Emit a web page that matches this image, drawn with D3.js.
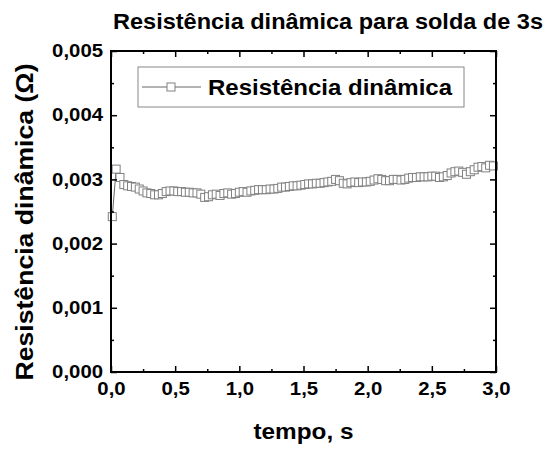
<!DOCTYPE html>
<html>
<head>
<meta charset="utf-8">
<script src="https://cdn.jsdelivr.net/npm/d3@7"></script>
<style>
  body { margin: 0; background: #fff; }
  svg { display: block; font-family: 'Liberation Sans', Arial, sans-serif; }
</style>
</head>
<body>
<svg id="chart" width="546" height="450"></svg>
<script>
// tempo (s)
var tempo = [
  0.01, 0.04, 0.07, 0.10, 0.13, 0.16, 0.19, 0.22, 0.25, 0.28,
  0.31, 0.34, 0.37, 0.40, 0.43, 0.46, 0.49, 0.52, 0.55, 0.58,
  0.61, 0.64, 0.67, 0.70, 0.73, 0.76, 0.79, 0.82, 0.85, 0.88,
  0.91, 0.94, 0.97, 1.00, 1.03, 1.06, 1.09, 1.12, 1.15, 1.18,
  1.21, 1.24, 1.27, 1.30, 1.33, 1.36, 1.39, 1.42, 1.45, 1.48,
  1.51, 1.54, 1.57, 1.60, 1.63, 1.66, 1.69, 1.72, 1.75, 1.78,
  1.81, 1.84, 1.87, 1.90, 1.93, 1.96, 1.99, 2.02, 2.05, 2.08,
  2.11, 2.14, 2.17, 2.20, 2.23, 2.26, 2.29, 2.32, 2.35, 2.38,
  2.41, 2.44, 2.47, 2.50, 2.53, 2.56, 2.59, 2.62, 2.65, 2.68,
  2.71, 2.74, 2.77, 2.80, 2.83, 2.86, 2.89, 2.92, 2.95, 2.98
];

// resistencia dinamica (ohm)
var resistencia = [
  0.00242, 0.00316, 0.00303, 0.00292, 0.00290, 0.00289, 0.00288, 0.00285, 0.00282, 0.00279,
  0.00278, 0.00276, 0.00276, 0.00278, 0.00281, 0.00282, 0.00282, 0.00281, 0.00281, 0.00280,
  0.00280, 0.00279, 0.00279, 0.00277, 0.00272, 0.00273, 0.00276, 0.00277, 0.00275, 0.00278,
  0.00279, 0.00277, 0.00278, 0.00280, 0.00281, 0.00280, 0.00282, 0.00283, 0.00284, 0.00284,
  0.00284, 0.00285, 0.00285, 0.00286, 0.00288, 0.00288, 0.00289, 0.00290, 0.00290, 0.00291,
  0.00292, 0.00293, 0.00293, 0.00294, 0.00294, 0.00295, 0.00296, 0.00297, 0.00300, 0.00298,
  0.00294, 0.00293, 0.00295, 0.00296, 0.00295, 0.00296, 0.00296, 0.00297, 0.00299, 0.00301,
  0.00300, 0.00298, 0.00298, 0.00300, 0.00300, 0.00299, 0.00300, 0.00302, 0.00303, 0.00303,
  0.00304, 0.00304, 0.00304, 0.00305, 0.00305, 0.00303, 0.00304, 0.00306, 0.00310, 0.00312,
  0.00313, 0.00311, 0.00308, 0.00312, 0.00315, 0.00319, 0.00320, 0.00318, 0.00322, 0.00321
];

var xMajor = [0, 0.5, 1.0, 1.5, 2.0, 2.5, 3.0];
var xMinor = [0.25, 0.75, 1.25, 1.75, 2.25, 2.75];
var yMajor = [0, 0.001, 0.002, 0.003, 0.004, 0.005];
var yMinor = [0.0005, 0.0015, 0.0025, 0.0035, 0.0045];

var titulo = 'Resistência dinâmica para solda de 3s';
var legenda = 'Resistência dinâmica';
var tituloX = 'tempo, s';
var tituloY = 'Resistência dinâmica (Ω)';

(function () {
  var svg = d3.select('#chart');
  var margin = { top: 51, right: 50, bottom: 78, left: 111 };
  var width = 546 - margin.left - margin.right;
  var height = 450 - margin.top - margin.bottom;

  var x = d3.scaleLinear().domain([0, 3]).range([0, width]);
  var y = d3.scaleLinear().domain([0, 0.005]).range([height, 0]);

  var g = svg.append('g')
    .attr('transform', 'translate(' + margin.left + ',' + margin.top + ')');

  var fmtX = function (d) { return d3.format('.1f')(d).replace('.', ','); };
  var fmtY = function (d) { return d3.format('.3f')(d).replace('.', ','); };

  // the original glyphs are a little wider than Liberation Sans Bold
  function stretch(sel, factor) {
    sel.each(function () {
      var w = this.getComputedTextLength();
      d3.select(this)
        .attr('textLength', w * factor)
        .attr('lengthAdjust', 'spacingAndGlyphs');
    });
  }

  // data line + markers
  var pts = tempo.map(function (t, i) { return [t, resistencia[i]]; });
  var line = d3.line().x(function (d) { return x(d[0]); }).y(function (d) { return y(d[1]); });

  g.append('path')
    .attr('d', line(pts))
    .attr('fill', 'none')
    .attr('stroke', '#666')
    .attr('stroke-width', 1);

  g.selectAll('rect.pt')
    .data(pts)
    .enter().append('rect')
    .attr('class', 'pt')
    .attr('x', function (d) { return x(d[0]) - 4; })
    .attr('y', function (d) { return y(d[1]) - 4; })
    .attr('width', 8)
    .attr('height', 8)
    .attr('fill', '#fff')
    .attr('stroke', '#808080')
    .attr('stroke-width', 1);

  // axes (ticks inward, mirrored on top/right)
  var axes = [];
  axes.push(g.append('g').attr('transform', 'translate(0,' + height + ')')
    .call(d3.axisBottom(x).tickValues(xMajor).tickSize(-6).tickPadding(10).tickFormat(fmtX)));
  axes.push(g.append('g').attr('transform', 'translate(0,' + height + ')')
    .call(d3.axisBottom(x).tickValues(xMinor).tickSize(-3).tickFormat('')));
  axes.push(g.append('g')
    .call(d3.axisTop(x).tickValues(xMajor).tickSize(-6).tickFormat('')));
  axes.push(g.append('g')
    .call(d3.axisTop(x).tickValues(xMinor).tickSize(-3).tickFormat('')));
  axes.push(g.append('g')
    .call(d3.axisLeft(y).tickValues(yMajor).tickSize(-6).tickPadding(8).tickFormat(fmtY)));
  axes.push(g.append('g')
    .call(d3.axisLeft(y).tickValues(yMinor).tickSize(-3).tickFormat('')));
  axes.push(g.append('g').attr('transform', 'translate(' + width + ',0)')
    .call(d3.axisRight(y).tickValues(yMajor).tickSize(-6).tickFormat('')));
  axes.push(g.append('g').attr('transform', 'translate(' + width + ',0)')
    .call(d3.axisRight(y).tickValues(yMinor).tickSize(-3).tickFormat('')));

  axes.forEach(function (a) {
    a.select('.domain').remove();
    a.selectAll('line').attr('stroke', '#000').attr('stroke-width', 1.5);
    var t = a.selectAll('text')
      .attr('fill', '#000')
      .attr('font-size', '18px')
      .attr('font-weight', 'bold')
      .attr('font-family', 'Liberation Sans, Arial, sans-serif');
    stretch(t, 1.13);
  });

  g.append('rect')
    .attr('width', width)
    .attr('height', height)
    .attr('fill', 'none')
    .attr('stroke', '#000')
    .attr('stroke-width', 2);

  // legend
  var lg = g.append('g').attr('transform', 'translate(27,16)');
  lg.append('rect')
    .attr('width', 326)
    .attr('height', 40)
    .attr('fill', '#fff')
    .attr('stroke', '#888')
    .attr('stroke-width', 1);
  lg.append('line')
    .attr('x1', 4).attr('x2', 63).attr('y1', 20).attr('y2', 20)
    .attr('stroke', '#666').attr('stroke-width', 1);
  lg.append('rect')
    .attr('x', 29).attr('y', 16).attr('width', 8).attr('height', 8)
    .attr('fill', '#fff').attr('stroke', '#808080');
  lg.append('text')
    .attr('x', 70)
    .attr('y', 20)
    .attr('dy', '0.35em')
    .attr('font-size', '22px')
    .attr('font-weight', 'bold')
    .attr('textLength', 244)
    .attr('lengthAdjust', 'spacingAndGlyphs')
    .text(legenda);

  // titles
  svg.append('text')
    .attr('x', 328)
    .attr('y', 29)
    .attr('text-anchor', 'middle')
    .attr('font-size', '22px')
    .attr('font-weight', 'bold')
    .attr('textLength', 430)
    .attr('lengthAdjust', 'spacingAndGlyphs')
    .text(titulo);

  svg.append('text')
    .attr('x', margin.left + width / 2)
    .attr('y', 439)
    .attr('text-anchor', 'middle')
    .attr('font-size', '22px')
    .attr('font-weight', 'bold')
    .attr('textLength', 100)
    .attr('lengthAdjust', 'spacingAndGlyphs')
    .text(tituloX);

  svg.append('text')
    .attr('transform', 'translate(33,222) rotate(-90)')
    .attr('text-anchor', 'middle')
    .attr('font-size', '23px')
    .attr('font-weight', 'bold')
    .attr('textLength', 317)
    .attr('lengthAdjust', 'spacingAndGlyphs')
    .text(tituloY);
})();
</script>
</body>
</html>
